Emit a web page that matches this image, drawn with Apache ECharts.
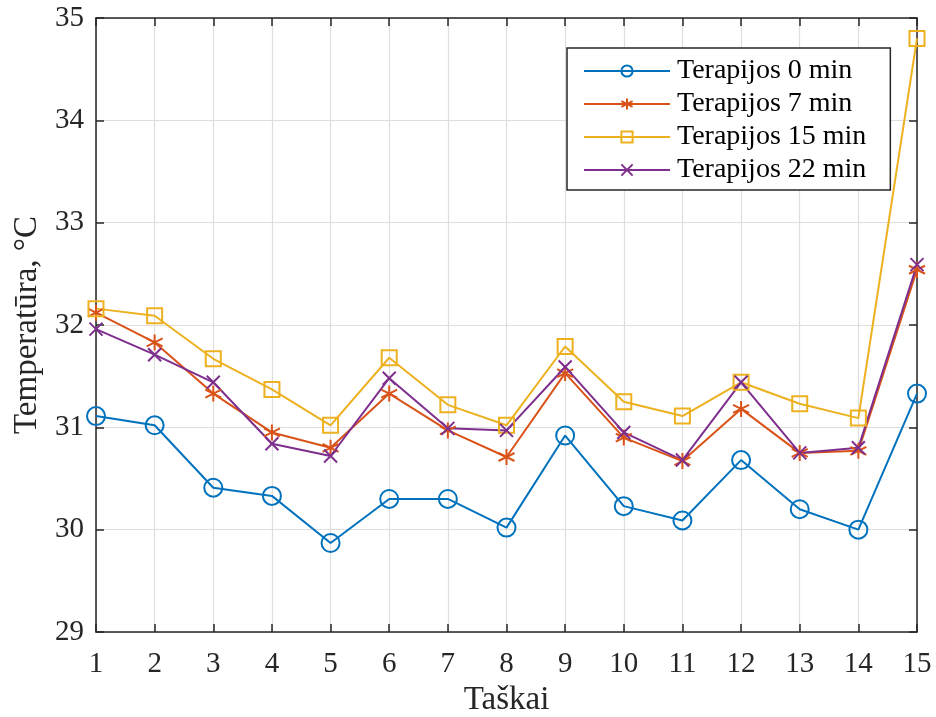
<!DOCTYPE html>
<html>
  <head>
    <meta charset="utf-8">
    <title>Temperatūra</title>
    <style>
        *{
            padding: 0;
            margin: 0;
        }
        body{
            background-color: #ffffff;
        }
        #chart{
            width: 936px;
            height: 717px;
        }
    </style>
  </head>
  <body>
    <div id="chart"></div>
    <script type="text/javascript" src="https://cdn.jsdelivr.net/npm/echarts@6/dist/echarts.min.js"></script>
    <script type="text/javascript">
        // duomenys
        var taskai = [1, 2, 3, 4, 5, 6, 7, 8, 9, 10, 11, 12, 13, 14, 15];
        var ter0 = [31.11, 31.02, 30.41, 30.33, 29.87, 30.30, 30.30, 30.02, 30.92, 30.23, 30.09, 30.68, 30.20, 30.00, 31.33];
        var ter7 = [32.12, 31.83, 31.33, 30.95, 30.80, 31.33, 30.97, 30.71, 31.53, 30.90, 30.67, 31.18, 30.75, 30.77, 32.54];
        var ter15 = [32.16, 32.09, 31.67, 31.37, 31.02, 31.68, 31.22, 31.02, 31.79, 31.25, 31.11, 31.44, 31.23, 31.09, 34.80];
        var ter22 = [31.96, 31.71, 31.44, 30.84, 30.72, 31.48, 30.99, 30.97, 31.59, 30.95, 30.68, 31.44, 30.75, 30.80, 32.59];
        var names = ['Terapijos 0 min', 'Terapijos 7 min', 'Terapijos 15 min', 'Terapijos 22 min'];

        var font = '"Liberation Serif", "Times New Roman", serif';
        var axisCol = '#262626';

        function pairs(vals) {
            var out = [];
            for (var i = 0; i < taskai.length; i++) out.push([taskai[i], vals[i]]);
            return out;
        }

        var starPath = 'path://M0,-10L0,10M-8.66,-5L8.66,5M-8.66,5L8.66,-5';
        var crossPath = 'path://M-7,-7L7,7M-7,7L7,-7';

        function makeSeries(name, vals, color, symbol, size) {
            return {
                name: name,
                type: 'line',
                data: pairs(vals),
                symbol: symbol,
                symbolSize: size,
                showAllSymbol: true,
                lineStyle: { color: color, width: 2 },
                itemStyle: { color: 'rgba(255,255,255,0)', borderColor: color, borderWidth: 2 },
                emphasis: { disabled: true },
                z: 3
            };
        }

        var chart = echarts.init(document.getElementById('chart'));
        var option = {
            animation: false,
            backgroundColor: '#ffffff',
            grid: { left: 96, top: 18, width: 821, height: 614, outerBoundsMode: 'none' },
            legend: {
                orient: 'vertical',
                left: 567,
                top: 48,
                padding: [9, 24, 6, 16],
                itemGap: 5,
                itemWidth: 86,
                itemHeight: 14,
                borderColor: axisCol,
                borderWidth: 1.5,
                backgroundColor: '#ffffff',
                data: names,
                textStyle: { fontFamily: font, fontSize: 28, color: '#000000', padding: [0, 0, 0, 2] }
            },
            xAxis: [{
                type: 'value',
                min: 1,
                max: 15,
                interval: 1,
                name: 'Taškai',
                nameLocation: 'middle',
                nameGap: 52,
                nameTextStyle: { fontFamily: font, fontSize: 33, color: '#262626' },
                axisLine: { show: true, lineStyle: { color: axisCol, width: 1.5 } },
                axisTick: { show: true, inside: true, length: 8, lineStyle: { color: axisCol, width: 1.5 } },
                axisLabel: { fontFamily: font, fontSize: 29, color: '#262626', margin: 18 },
                splitLine: { show: true, lineStyle: { color: '#dedede', width: 1.2 } }
            }, {
                type: 'value',
                position: 'top',
                min: 1,
                max: 15,
                interval: 1,
                axisLine: { show: true, lineStyle: { color: axisCol, width: 1.5 } },
                axisTick: { show: true, inside: true, length: 8, lineStyle: { color: axisCol, width: 1.5 } },
                axisLabel: { show: false },
                splitLine: { show: false }
            }],
            yAxis: [{
                type: 'value',
                min: 29,
                max: 35,
                interval: 1,
                name: 'Temperatūra, °C',
                nameLocation: 'middle',
                nameGap: 49,
                nameRotate: 90,
                nameTextStyle: { fontFamily: font, fontSize: 33, color: '#262626' },
                axisLine: { show: true, lineStyle: { color: axisCol, width: 1.5 } },
                axisTick: { show: true, inside: true, length: 8, lineStyle: { color: axisCol, width: 1.5 } },
                axisLabel: { fontFamily: font, fontSize: 29, color: '#262626', margin: 12 },
                splitLine: { show: true, lineStyle: { color: '#dedede', width: 1.2 } }
            }, {
                type: 'value',
                position: 'right',
                min: 29,
                max: 35,
                interval: 1,
                axisLine: { show: true, lineStyle: { color: axisCol, width: 1.5 } },
                axisTick: { show: true, inside: true, length: 8, lineStyle: { color: axisCol, width: 1.5 } },
                axisLabel: { show: false },
                splitLine: { show: false }
            }],
            series: [
                makeSeries(names[0], ter0, '#0072BD', 'circle', 18),
                makeSeries(names[1], ter7, '#D95319', starPath, 16),
                makeSeries(names[2], ter15, '#EDB120', 'rect', 15),
                makeSeries(names[3], ter22, '#7E2F8E', crossPath, 13)
            ]
        };
        chart.setOption(option);
    </script>
  </body>
</html>
